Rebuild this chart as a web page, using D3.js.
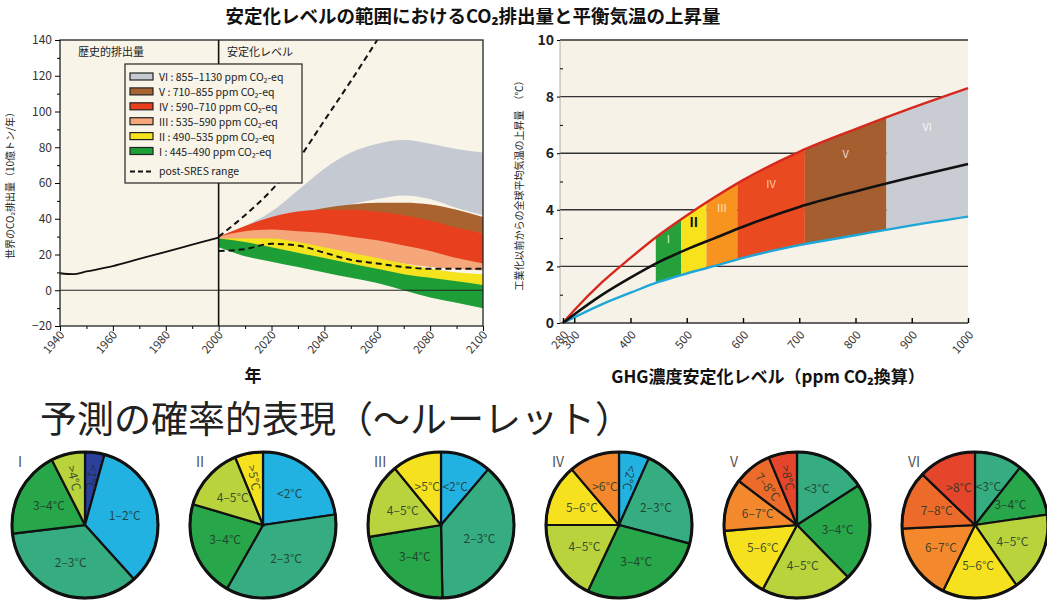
<!DOCTYPE html>
<html><head><meta charset="utf-8">
<script src="https://cdn.jsdelivr.net/npm/d3@7"></script>
<style>
body{margin:0;background:#fff;}
svg text{font-family:"Noto Sans CJK JP","Noto Sans",sans-serif;}
</style></head><body>
<svg id="chart" width="1047" height="604"></svg>
<script>
// ---------- emissions panel (GtCO2 / yr) ----------
const histYears = [1940, 1945, 1950, 1960, 1970, 1980, 1990, 2000];
const histEmissions = [9.5, 9.0, 10.5, 13.5, 17.5, 21.5, 25.5, 29.5];

const scenYears = [2000, 2010, 2020, 2030, 2040, 2050, 2060, 2070, 2080, 2090, 2100];
const catVIHigh  = [30, 36, 44, 56, 68, 77, 82, 84, 82, 79, 77];
const catVILow   = [30, 33, 37, 41, 45, 48, 51, 53, 51, 46, 42];
const catVHigh   = [30, 34, 39, 43, 46, 48, 49, 49, 48, 45, 41];
const catVLow    = [30, 31, 33, 34, 35, 35, 35, 34, 33, 33, 32];
const catIVHigh  = [30, 36, 41, 44, 45, 45, 44, 42, 39, 35, 32];
const catIVLow   = [29, 28, 27, 26, 24, 22, 21, 19, 17, 15, 13];
const catIIIHigh = [30, 33, 34, 33, 32, 30, 28, 25, 22, 18, 15];
const catIIILow  = [28, 27, 25, 23, 21, 19, 17, 15, 13, 12, 11];
const catIIHigh  = [29, 29, 29, 27, 24, 21, 18, 15, 12, 10, 9];
const catIILow   = [27, 24, 21, 18, 15, 12, 9, 7, 5, 4, 3];
const catIHigh   = [29, 27, 24, 21, 18, 15, 12, 9, 7, 5, 3];
const catILow    = [24, 19, 16, 13, 10, 7, 4, 0, -4, -7, -10];

const sresHighYears = [2000, 2010, 2020, 2030, 2040, 2050, 2060];
const sresHigh = [30, 42, 56, 73, 95, 117, 140];
const sresLow = [22, 23, 26, 25, 21, 17, 15, 13, 12, 12, 12];

const legendLabels = [
  "VI : 855–1130 ppm CO\u2082-eq",
  "V : 710–855 ppm CO\u2082-eq",
  "IV : 590–710 ppm CO\u2082-eq",
  "III : 535–590 ppm CO\u2082-eq",
  "II : 490–535 ppm CO\u2082-eq",
  "I : 445–490 ppm CO\u2082-eq",
  "post-SRES range"
];
const catColors = ["#c5c9d1", "#a9632f", "#e8401f", "#f6a77a", "#f4e31d", "#1e9e37"];

const leftYTicks = [-20, 0, 20, 40, 60, 80, 100, 120, 140];
const leftXTicks = [1940, 1960, 1980, 2000, 2020, 2040, 2060, 2080, 2100];

// ---------- equilibrium warming panel ----------
const ppmPts = [280, 300, 350, 400, 450, 500, 550, 600, 700, 800, 900, 1000];
const tempUpper = [0, 0.45, 1.45, 2.3, 3.1, 3.8, 4.45, 5.05, 6.05, 6.85, 7.6, 8.3];
const tempBest  = [0, 0.3, 1.0, 1.6, 2.15, 2.6, 3.0, 3.4, 4.1, 4.65, 5.15, 5.62];
const tempLower = [0, 0.2, 0.67, 1.07, 1.45, 1.75, 2.02, 2.3, 2.75, 3.1, 3.45, 3.76];
const bandNames = ["I", "II", "III", "IV", "V", "VI"];
const bandLow  = [445, 490, 535, 590, 710, 855];
const bandHigh = [490, 535, 590, 710, 855, 1000];
const bandColors = ["#25a03a", "#f8e21c", "#f7931f", "#ea4a1f", "#a55e30", "#c9ccd3"];
const bandTextColors = ["#dfeedd", "#111", "#fbe3c0", "#f8c8b8", "#f0d8c8", "#f4f4f6"];
const rightXTicks = [280, 300, 400, 500, 600, 700, 800, 900, 1000];
const rightYTicks = [0, 2, 4, 6, 8, 10];

// ---------- probability pies ----------
const pieNames = ["I", "II", "III", "IV", "V", "VI"];
const pieLabels = [
  ["<1°C", "1–2°C", "2–3°C", "3–4°C", ">4°C"],
  ["<2°C", "2–3°C", "3–4°C", "4–5°C", ">5°C"],
  ["<2°C", "2–3°C", "3–4°C", "4–5°C", ">5°C"],
  ["<2°C", "2–3°C", "3–4°C", "4–5°C", "5–6°C", ">6°C"],
  ["<3°C", "3–4°C", "4–5°C", "5–6°C", "6–7°C", "7–8°C", ">8°C"],
  ["<3°C", "3–4°C", "4–5°C", "5–6°C", "6–7°C", "7–8°C", ">8°C"]
];
const pieShares = [
  [4.3, 34.0, 34.8, 19.4, 7.5],
  [22.7, 35.5, 21.4, 14.2, 6.2],
  [11.2, 38.5, 22.7, 16.7, 10.9],
  [6.7, 22.4, 27.9, 18.0, 13.8, 11.2],
  [15.9, 21.8, 20.1, 15.9, 11.6, 8.4, 6.3],
  [10.6, 12.1, 17.7, 16.8, 17.0, 13.0, 12.8]
];
const cBlue = "#2b3f9c", cCyan = "#22b2e2", cTeal = "#36ad80", cGreen = "#27a64a",
      cLime = "#b8d33c", cYellow = "#f6e11f", cOrange = "#f3892c", cRedOr = "#ec6b2a", cRed = "#e5452a";
const pieColors = [
  [cBlue, cCyan, cTeal, cGreen, cLime],
  [cCyan, cTeal, cGreen, cLime, cYellow],
  [cCyan, cTeal, cGreen, cLime, cYellow],
  [cCyan, cTeal, cGreen, cLime, cYellow, cOrange],
  [cTeal, cGreen, cLime, cYellow, cOrange, cRedOr, cRed],
  [cTeal, cGreen, cLime, cYellow, cOrange, cRedOr, cRed]
];

const svg = d3.select("#chart");

// ================= titles =================
svg.append("text").attr("x", 473).attr("y", 23).attr("text-anchor", "middle")
  .attr("font-size", 18.5).attr("font-weight", "bold").attr("fill", "#111")
  .text("安定化レベルの範囲におけるCO\u2082排出量と平衡気温の上昇量");

// ================= left panel: emissions =================
const LX = d3.scaleLinear().domain([1940, 2100]).range([60, 483]);
const LY = d3.scaleLinear().domain([-20, 140]).range([326, 40]);
const gL = svg.append("g");

gL.append("rect").attr("x", LX(1940)).attr("y", LY(140))
  .attr("width", LX(2100) - LX(1940)).attr("height", LY(-20) - LY(140))
  .attr("fill", "#f8f4e8");

svg.append("clipPath").attr("id", "clipL").append("rect")
  .attr("x", LX(1940)).attr("y", LY(140))
  .attr("width", LX(2100) - LX(1940)).attr("height", LY(-20) - LY(140));
const plotL = gL.append("g").attr("clip-path", "url(#clipL)");

const cats = [
  [catVIHigh, catVILow], [catVHigh, catVLow], [catIVHigh, catIVLow],
  [catIIIHigh, catIIILow], [catIIHigh, catIILow], [catIHigh, catILow]
];
const bandArea = d3.area().curve(d3.curveMonotoneX)
  .x(d => LX(d.year)).y0(d => LY(d.lo)).y1(d => LY(d.hi));
cats.forEach((c, i) => {
  const rows = scenYears.map((yr, k) => ({ year: yr, hi: c[0][k], lo: c[1][k] }));
  plotL.append("path").datum(rows).attr("d", bandArea).attr("fill", catColors[i]);
});

// zero line and year-2000 divider
plotL.append("line").attr("x1", LX(1940)).attr("x2", LX(2100))
  .attr("y1", LY(0)).attr("y2", LY(0)).attr("stroke", "#222").attr("stroke-width", 1);
gL.append("line").attr("x1", LX(2000)).attr("x2", LX(2000))
  .attr("y1", LY(140)).attr("y2", LY(-20)).attr("stroke", "#111").attr("stroke-width", 1.6);

// post-SRES range
const sresLine = d3.line().curve(d3.curveMonotoneX).x(d => LX(d[0])).y(d => LY(d[1]));
plotL.append("path").datum(sresHighYears.map((y, k) => [y, sresHigh[k]]))
  .attr("d", sresLine).attr("fill", "none").attr("stroke", "#111")
  .attr("stroke-width", 2).attr("stroke-dasharray", "6,4");
plotL.append("path").datum(scenYears.map((y, k) => [y, sresLow[k]]))
  .attr("d", sresLine).attr("fill", "none").attr("stroke", "#111")
  .attr("stroke-width", 2).attr("stroke-dasharray", "6,4");

// historical emissions
plotL.append("path").datum(histYears.map((y, k) => [y, histEmissions[k]]))
  .attr("d", d3.line().curve(d3.curveMonotoneX).x(d => LX(d[0])).y(d => LY(d[1])))
  .attr("fill", "none").attr("stroke", "#111").attr("stroke-width", 1.8);

// frame
gL.append("rect").attr("x", LX(1940)).attr("y", LY(140))
  .attr("width", LX(2100) - LX(1940)).attr("height", LY(-20) - LY(140))
  .attr("fill", "none").attr("stroke", "#222").attr("stroke-width", 1.3);

// y axis
gL.append("g").attr("transform", `translate(${LX(1940)},0)`)
  .call(d3.axisLeft(LY).tickValues(leftYTicks).tickSize(5).tickFormat(d3.format("d")))
  .call(g => g.select(".domain").remove())
  .call(g => g.selectAll("text").attr("font-size", 12).attr("fill", "#333"));
gL.append("g").attr("transform", `translate(${LX(1940)},0)`)
  .call(d3.axisLeft(LY).tickValues(d3.range(-10, 140, 20)).tickSize(3).tickFormat(""))
  .call(g => g.select(".domain").remove());

// x axis
gL.append("g").attr("transform", `translate(0,${LY(-20)})`)
  .call(d3.axisBottom(LX).tickValues(leftXTicks).tickSize(5).tickFormat(""))
  .call(g => g.select(".domain").remove());
gL.append("g").attr("transform", `translate(0,${LY(-20)})`)
  .call(d3.axisBottom(LX).tickValues(d3.range(1950, 2100, 20)).tickSize(3).tickFormat(""))
  .call(g => g.select(".domain").remove());
gL.selectAll(".xlab").data(leftXTicks).join("text")
  .attr("transform", d => `translate(${LX(d) + 5},${LY(-20) + 9}) rotate(-50)`)
  .attr("text-anchor", "end").attr("font-size", 11.5).attr("fill", "#333").text(d => d);

gL.append("text").attr("x", 253).attr("y", 382).attr("text-anchor", "middle")
  .attr("font-size", 17).attr("font-weight", "bold").attr("fill", "#111").text("年");
gL.append("text").attr("transform", "translate(14,183) rotate(-90)")
  .attr("text-anchor", "middle").attr("font-size", 10).attr("fill", "#222")
  .text("世界のCO\u2082排出量（10億トン/年）");
gL.append("text").attr("x", 78).attr("y", 56).attr("font-size", 11).attr("fill", "#222")
  .text("歴史的排出量");
gL.append("text").attr("x", 227).attr("y", 56).attr("font-size", 11).attr("fill", "#222")
  .text("安定化レベル");

// legend
const lg = gL.append("g");
lg.append("rect").attr("x", 125).attr("y", 64).attr("width", 177).attr("height", 119)
  .attr("fill", "#f8f4e8").attr("stroke", "#222").attr("stroke-width", 1.2);
legendLabels.forEach((lab, i) => {
  const y = 77 + i * 14.9 + (i === 6 ? 5 : 0);
  if (i < 6) {
    lg.append("rect").attr("x", 130).attr("y", y - 4).attr("width", 23).attr("height", 7)
      .attr("fill", catColors[i]).attr("stroke", "#222").attr("stroke-width", 1.2);
  } else {
    lg.append("line").attr("x1", 130).attr("x2", 153).attr("y1", y).attr("y2", y)
      .attr("stroke", "#111").attr("stroke-width", 2).attr("stroke-dasharray", "5,3");
  }
  lg.append("text").attr("x", 159).attr("y", y + 4).attr("font-size", 10.5)
    .attr("fill", "#222").text(lab);
});

// ================= right panel: equilibrium warming =================
const RX = d3.scaleLinear().domain([280, 1000]).range([563, 968]);
const RY = d3.scaleLinear().domain([0, 10]).range([323, 40]);
const gR = svg.append("g");
gR.append("rect").attr("x", 560).attr("y", RY(10)).attr("width", RX(1000) - 560)
  .attr("height", RY(0) - RY(10)).attr("fill", "#f7f2e7");

// gridlines
gR.selectAll(".grid").data(rightYTicks.filter(d => d > 0)).join("line")
  .attr("x1", 560).attr("x2", RX(1000)).attr("y1", d => RY(d)).attr("y2", d => RY(d))
  .attr("stroke", "#333").attr("stroke-width", 1.4);

const warm = ppmPts.map((p, k) => ({ ppm: p, up: tempUpper[k], best: tempBest[k], lo: tempLower[k] }));
const upAt = d3.scaleLinear().domain(ppmPts).range(tempUpper);
const bestAt = d3.scaleLinear().domain(ppmPts).range(tempBest);

bandNames.forEach((nm, i) => {
  const id = "band" + i;
  svg.append("clipPath").attr("id", id).append("rect")
    .attr("x", RX(bandLow[i])).attr("y", RY(10))
    .attr("width", RX(bandHigh[i]) - RX(bandLow[i])).attr("height", RY(0) - RY(10));
  gR.append("path").datum(warm).attr("clip-path", `url(#${id})`)
    .attr("d", d3.area().curve(d3.curveMonotoneX).x(d => RX(d.ppm))
      .y0(d => RY(d.lo)).y1(d => RY(d.up)))
    .attr("fill", bandColors[i]);
});

const wline = key => d3.line().curve(d3.curveMonotoneX).x(d => RX(d.ppm)).y(d => RY(d[key]));
gR.append("path").datum(warm).attr("d", wline("lo")).attr("fill", "none")
  .attr("stroke", "#1ea6d9").attr("stroke-width", 2.4);
gR.append("path").datum(warm).attr("d", wline("up")).attr("fill", "none")
  .attr("stroke", "#d6281f").attr("stroke-width", 2.4);
gR.append("path").datum(warm).attr("d", wline("best")).attr("fill", "none")
  .attr("stroke", "#111").attr("stroke-width", 2.6);

bandNames.forEach((nm, i) => {
  const mid = (bandLow[i] + bandHigh[i]) / 2;
  const t = bestAt(mid) + 0.65 * (upAt(mid) - bestAt(mid));
  gR.append("text").attr("x", RX(mid)).attr("y", RY(t) + 4).attr("text-anchor", "middle")
    .attr("font-size", i === 1 ? 13 : 11).attr("font-weight", i === 1 ? "bold" : "normal")
    .attr("fill", bandTextColors[i]).text(nm);
});

// axes
gR.append("line").attr("x1", 560).attr("x2", RX(1000)).attr("y1", RY(0)).attr("y2", RY(0))
  .attr("stroke", "#333").attr("stroke-width", 1.6);
gR.append("line").attr("x1", 560).attr("x2", 560).attr("y1", RY(10)).attr("y2", RY(0))
  .attr("stroke", "#999").attr("stroke-width", 0.8);
gR.append("g").attr("transform", "translate(560,0)")
  .call(d3.axisLeft(RY).tickValues(rightYTicks).tickSize(3).tickFormat(d3.format("d")))
  .call(g => g.select(".domain").remove())
  .call(g => g.selectAll("text").attr("font-size", 14).attr("font-weight", "bold").attr("fill", "#222"));
gR.append("g").attr("transform", "translate(560,0)")
  .call(d3.axisRight(RY).tickValues([1, 3, 5, 7, 9]).tickSize(3).tickFormat(""))
  .call(g => g.select(".domain").remove());
gR.append("g").attr("transform", `translate(0,${RY(0)})`)
  .call(d3.axisBottom(RX).tickValues(rightXTicks).tickSize(-5).tickFormat(""))
  .call(g => g.select(".domain").remove())
  .call(g => g.selectAll("line").attr("stroke-width", 1.4));
gR.selectAll(".rxlab").data(rightXTicks).join("text")
  .attr("transform", d => `translate(${RX(d) + 6},${RY(0) + 12}) rotate(-50)`)
  .attr("text-anchor", "end").attr("font-size", 11.5).attr("fill", "#333").text(d => d);

gR.append("text").attr("x", 768).attr("y", 383).attr("text-anchor", "middle")
  .attr("font-size", 17).attr("font-weight", "bold").attr("fill", "#111")
  .text("GHG濃度安定化レベル（ppm CO\u2082換算）");
gR.append("text").attr("transform", "translate(523,183) rotate(-90)")
  .attr("text-anchor", "middle").attr("font-size", 10).attr("fill", "#222")
  .text("工業化以前からの全球平均気温の上昇量　（℃）");

// ================= probability pies =================
svg.append("text").attr("x", 40).attr("y", 433).attr("font-size", 37).attr("fill", "#222")
  .text("予測の確率的表現（～ルーレット）");

const pieR = 73;
const pieGen = d3.pie().sort(null).value(d => d);
const arc = d3.arc().innerRadius(0).outerRadius(pieR);
pieShares.forEach((shares, i) => {
  const cx = 85 + i * 178, cy = 525;
  const g = svg.append("g").attr("transform", `translate(${cx},${cy})`);
  const slices = pieGen(shares);
  g.selectAll("path").data(slices).join("path").attr("d", arc)
    .attr("fill", (d, k) => pieColors[i][k]).attr("stroke", "#111").attr("stroke-width", 2.2);
  g.append("circle").attr("r", pieR).attr("fill", "none").attr("stroke", "#111").attr("stroke-width", 3);
  slices.forEach((s, k) => {
    const a = (s.startAngle + s.endAngle) / 2;
    const span = (s.endAngle - s.startAngle) * 180 / Math.PI;
    const rr = pieR * (span < 32 ? 0.66 : 0.56);
    const x = Math.sin(a) * rr, y = -Math.cos(a) * rr;
    const rot = span < 32 ? (a * 180 / Math.PI + 90) : 0;
    g.append("text").attr("transform", `translate(${x},${y}) rotate(${rot})`)
      .attr("text-anchor", "middle").attr("dy", "0.35em")
      .attr("font-size", 12).attr("fill", "#1e3328").attr("fill-opacity", 0.85)
      .text(pieLabels[i][k]);
  });
  svg.append("text").attr("x", cx - 67).attr("y", cy - 58).attr("font-size", 14)
    .attr("fill", "#555").text(pieNames[i]);
});
</script>
</body></html>
